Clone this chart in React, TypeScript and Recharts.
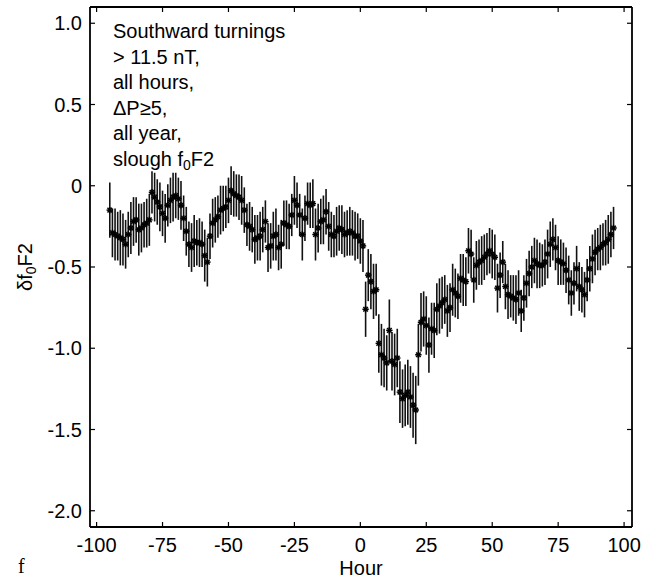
import React from 'react';
import { ScatterChart, Scatter, XAxis, YAxis, ErrorBar } from 'recharts';

const HOUR_START = -95;

const VALUES = [
  -0.15, -0.29, -0.30, -0.31, -0.32, -0.33, -0.36, -0.30, -0.26, -0.22,
  -0.21, -0.27, -0.26, -0.24, -0.23, -0.21, -0.04, -0.07, -0.10, -0.13,
  -0.17, -0.20, -0.12, -0.09, -0.07, -0.06, -0.08, -0.12, -0.20, -0.28,
  -0.36, -0.38, -0.34, -0.35, -0.35, -0.36, -0.43, -0.47, -0.31, -0.23,
  -0.21, -0.19, -0.15, -0.14, -0.13, -0.09, -0.03, -0.05, -0.06, -0.07,
  -0.09, -0.15, -0.24, -0.25, -0.27, -0.33, -0.32, -0.31, -0.27, -0.22,
  -0.38, -0.37, -0.31, -0.30, -0.38, -0.36, -0.23, -0.24, -0.25, -0.18,
  -0.09, -0.12, -0.18, -0.30, -0.20, -0.11, -0.12, -0.11, -0.30, -0.26,
  -0.22, -0.21, -0.16, -0.25, -0.30, -0.31, -0.28, -0.26, -0.27, -0.30,
  -0.29, -0.28, -0.29, -0.31, -0.31, -0.34, -0.37, -0.76, -0.55, -0.59,
  -0.65, -0.64, -0.97, -1.04, -1.06, -1.09, -0.89, -1.08, -1.10, -1.06,
  -1.27, -1.31, -1.29, -1.27, -1.30, -1.35, -1.38, -1.04, -0.84, -0.82,
  -0.86, -0.98, -0.88, -0.89, -0.76, -0.74, -0.72, -0.70, -0.77, -0.75,
  -0.64, -0.66, -0.68, -0.57, -0.58, -0.59, -0.40, -0.42, -0.58, -0.49,
  -0.47, -0.46, -0.44, -0.42, -0.40, -0.42, -0.44, -0.63, -0.55, -0.47,
  -0.62, -0.67, -0.68, -0.69, -0.70, -0.66, -0.77, -0.69, -0.60, -0.54,
  -0.50, -0.46, -0.48, -0.49, -0.49, -0.47, -0.42, -0.36, -0.33, -0.38,
  -0.46, -0.47, -0.48, -0.52, -0.58, -0.66, -0.60, -0.51, -0.62, -0.64,
  -0.67, -0.58, -0.51, -0.45, -0.41, -0.39, -0.38, -0.36, -0.35, -0.33,
  -0.30, -0.26,
];

const ERRORS = [
  0.17, 0.15, 0.16, 0.15, 0.17, 0.16, 0.15, 0.14, 0.16, 0.15,
  0.14, 0.16, 0.15, 0.14, 0.15, 0.16, 0.13, 0.15, 0.14, 0.15,
  0.14, 0.15, 0.13, 0.14, 0.15, 0.14, 0.13, 0.15, 0.14, 0.15,
  0.14, 0.15, 0.16, 0.14, 0.15, 0.14, 0.16, 0.15, 0.14, 0.15,
  0.14, 0.13, 0.15, 0.14, 0.13, 0.14, 0.15, 0.14, 0.13, 0.14,
  0.15, 0.14, 0.13, 0.15, 0.14, 0.15, 0.14, 0.15, 0.14, 0.13,
  0.15, 0.14, 0.15, 0.16, 0.14, 0.15, 0.14, 0.15, 0.14, 0.13,
  0.15, 0.14, 0.13, 0.16, 0.14, 0.13, 0.14, 0.15, 0.16, 0.15,
  0.14, 0.15, 0.14, 0.15, 0.14, 0.13, 0.15, 0.14, 0.15, 0.14,
  0.14, 0.15, 0.14, 0.15, 0.14, 0.14, 0.16, 0.17, 0.16, 0.17,
  0.17, 0.16, 0.18, 0.19, 0.18, 0.17, 0.19, 0.18, 0.19, 0.18,
  0.19, 0.18, 0.19, 0.20, 0.19, 0.20, 0.21, 0.19, 0.18, 0.17,
  0.18, 0.17, 0.16, 0.17, 0.16, 0.17, 0.16, 0.15, 0.16, 0.15,
  0.16, 0.15, 0.14, 0.15, 0.16, 0.15, 0.14, 0.15, 0.14, 0.15,
  0.14, 0.15, 0.14, 0.13, 0.14, 0.15, 0.14, 0.15, 0.14, 0.13,
  0.14, 0.15, 0.13, 0.14, 0.15, 0.14, 0.13, 0.14, 0.15, 0.14,
  0.13, 0.14, 0.15, 0.14, 0.13, 0.14, 0.15, 0.14, 0.13, 0.14,
  0.15, 0.14, 0.13, 0.14, 0.15, 0.14, 0.13, 0.14, 0.15, 0.14,
  0.14, 0.13, 0.14, 0.15, 0.14, 0.13, 0.14, 0.13, 0.14, 0.15,
  0.14, 0.13,
];

const X_TICKS = [-100, -75, -50, -25, 0, 25, 50, 75, 100];
const Y_TICKS = [-2, -1.5, -1, -0.5, 0, 0.5, 1];
const X_DOMAIN = [-102.5, 103];
const Y_DOMAIN = [-2.1, 1.1];

const NOTE_LINES = ['Southward turnings', '> 11.5 nT,', 'all hours,', '\u0394P\u22655,', 'all year,'];

const data = VALUES.map((v, i) => ({ hour: HOUR_START + i, val: v, err: ERRORS[i] }));

const FONT = '"Liberation Sans", Arial, Helvetica, sans-serif';
const FS = 20;

const Asterisk = (props: any) => {
  const { cx, cy } = props;
  if (cx == null || cy == null) return <g />;
  const r = 3.2;
  const d = 2.3;
  return (
    <g stroke="#000" strokeWidth={1.5}>
      <line x1={cx - r} y1={cy} x2={cx + r} y2={cy} />
      <line x1={cx} y1={cy - r} x2={cx} y2={cy + r} />
      <line x1={cx - d} y1={cy - d} x2={cx + d} y2={cy + d} />
      <line x1={cx - d} y1={cy + d} x2={cx + d} y2={cy - d} />
    </g>
  );
};

const yFmt = (v: number) => (v === 0 ? '0' : v.toFixed(1));

const YLabel = (props: any) => {
  const vb = props.viewBox || { x: 0, y: 7, width: 90, height: 520 };
  const x = vb.x + 32;
  const y = vb.y + vb.height / 2;
  return (
    <text
      x={x}
      y={y}
      transform={`rotate(-90, ${x}, ${y})`}
      textAnchor="middle"
      fontFamily={FONT}
      fontSize={FS}
      fill="#000"
    >
      {'\u03B4f'}
      <tspan fontSize={14} dy={4}>0</tspan>
      <tspan dy={-4}>F2</tspan>
    </text>
  );
};

const XLabel = (props: any) => {
  const vb = props.viewBox || { x: 90, y: 527, width: 542, height: 52 };
  return (
    <text
      x={vb.x + vb.width / 2}
      y={vb.y + 48}
      textAnchor="middle"
      fontFamily={FONT}
      fontSize={FS}
      fill="#000"
    >
      Hour
    </text>
  );
};

const axisLine = { stroke: '#000', strokeWidth: 1.8 };
const tickLine = { stroke: '#000', strokeWidth: 1.2 };
const tickStyle = { fill: '#000', fontSize: FS, fontFamily: FONT };

export default function App() {
  return (
    <div style={{ position: 'absolute', left: 0, top: 0, width: 654, height: 579, background: '#fff' }}>
      <ScatterChart width={654} height={579} margin={{ top: 6, right: 21, bottom: 0, left: 0 }}>
        <XAxis
          xAxisId="b"
          type="number"
          dataKey="hour"
          domain={X_DOMAIN}
          ticks={X_TICKS}
          allowDataOverflow
          height={52}
          tickSize={-5}
          tickMargin={16}
          axisLine={axisLine}
          tickLine={tickLine}
          tick={tickStyle}
          label={XLabel}
        />
        <XAxis
          xAxisId="t"
          orientation="top"
          type="number"
          dataKey="hour"
          domain={X_DOMAIN}
          ticks={X_TICKS}
          allowDataOverflow
          height={1}
          tickSize={-5}
          axisLine={axisLine}
          tickLine={tickLine}
          tickFormatter={() => ''}
        />
        <YAxis
          yAxisId="l"
          type="number"
          dataKey="val"
          domain={Y_DOMAIN}
          ticks={Y_TICKS}
          allowDataOverflow
          width={90}
          tickSize={-5}
          tickMargin={13}
          axisLine={axisLine}
          tickLine={tickLine}
          tick={tickStyle}
          tickFormatter={yFmt}
          label={YLabel}
        />
        <YAxis
          yAxisId="r"
          orientation="right"
          type="number"
          dataKey="val"
          domain={Y_DOMAIN}
          ticks={Y_TICKS}
          allowDataOverflow
          width={1}
          tickSize={-5}
          axisLine={axisLine}
          tickLine={tickLine}
          tickFormatter={() => ''}
        />
        <Scatter
          xAxisId="b"
          yAxisId="l"
          data={data}
          dataKey="val"
          shape={Asterisk}
          isAnimationActive={false}
        >
          <ErrorBar dataKey="err" direction="y" width={0} stroke="#111" strokeWidth={1.6} />
        </Scatter>
      </ScatterChart>
      <svg
        width={654}
        height={579}
        style={{ position: 'absolute', left: 0, top: 0, pointerEvents: 'none' }}
      >
        <g fontFamily={FONT} fontSize={FS} fill="#000">
          {NOTE_LINES.map((t, i) => (
            <text key={i} x={113} y={38.3 + i * 25.5}>
              {t}
            </text>
          ))}
          <text x={113} y={38.3 + 5 * 25.5}>
            {'slough f'}
            <tspan fontSize={14} dy={4}>0</tspan>
            <tspan dy={-4}>F2</tspan>
          </text>
        </g>
        <text x={18} y={573} fontFamily='"Liberation Serif", "Times New Roman", serif' fontSize={20} fill="#000">
          f
        </text>
      </svg>
    </div>
  );
}
